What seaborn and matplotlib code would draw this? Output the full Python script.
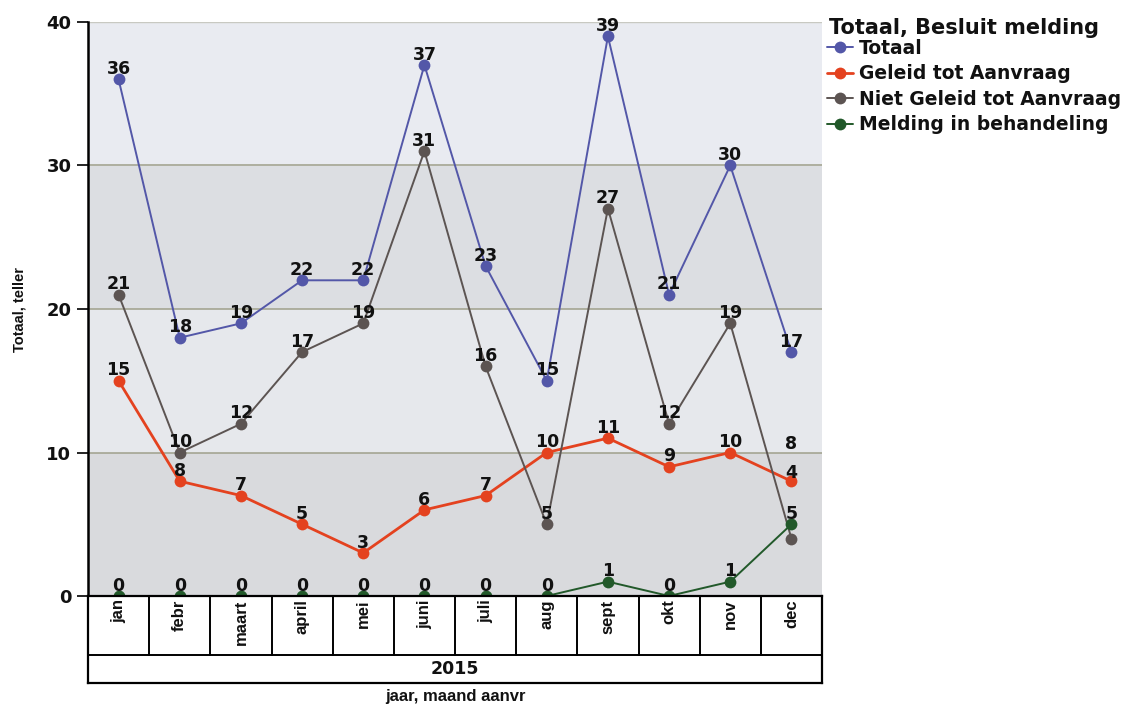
import numpy as np
import pandas as pd
import seaborn as sns
import matplotlib
matplotlib.use("Agg")
import matplotlib.pyplot as plt
from matplotlib.lines import Line2D

# ---------------- data ----------------
months = ["jan", "febr", "maart", "april", "mei", "juni", "juli", "aug", "sept", "okt", "nov", "dec"]
year_label = "2015"
series_names = ["Totaal", "Geleid tot Aanvraag", "Niet Geleid tot Aanvraag", "Melding in behandeling"]
totaal = [36, 18, 19, 22, 22, 37, 23, 15, 39, 21, 30, 17]
geleid = [15, 8, 7, 5, 3, 6, 7, 10, 11, 9, 10, 8]
niet_geleid = [21, 10, 12, 17, 19, 31, 16, 5, 27, 12, 19, 4]
melding = [0, 0, 0, 0, 0, 0, 0, 0, 1, 0, 1, 5]
y_ticks = [0, 10, 20, 30, 40]
legend_title = "Totaal, Besluit melding"

# ---------------- style ----------------
sns.set_theme(style="white")
plt.rcParams["font.family"] = ["Liberation Sans", "DejaVu Sans"]
plt.rcParams["text.color"] = "#111111"
plt.rcParams["axes.labelcolor"] = "#111111"
plt.rcParams["ytick.color"] = "#111111"
WIDE = ["DejaVu Sans"]

colors = ["#5357a8", "#e4421f", "#5c5452", "#22592a"]
line_widths = [1.4, 2.0, 1.4, 1.4]
band_colors = ["#d9dadd", "#e6e8ec", "#dcdee2", "#e9ebf1"]
# extra vertical label offsets (points) to avoid overlaps: (series index, month index) -> dy
label_shift = {(1, 11): 19, (2, 11): 40}

W, H = 1147, 707
fig = plt.figure(figsize=(W / 100, H / 100), dpi=100)
left, right, top, bottom = 88 / W, 822 / W, 1 - 22 / H, 1 - 596 / H
ax = fig.add_axes([left, bottom, right - left, top - bottom])

x_pos = np.arange(len(months))
values = [totaal, geleid, niet_geleid, melding]
df = pd.DataFrame({
    "pos": np.tile(x_pos, len(series_names)),
    "value": np.concatenate(values),
    "serie": np.repeat(series_names, len(months)),
})

# background bands and gridlines
for i, c in enumerate(band_colors):
    ax.axhspan(y_ticks[i], y_ticks[i + 1], color=c, zorder=0, lw=0)
for yv in y_ticks[1:-1]:
    ax.axhline(yv, color="#a4a592", lw=1.2, zorder=1)
ax.axhline(y_ticks[-1], color="#c8c9c2", lw=1.0, zorder=1)

for i, name in enumerate(series_names):
    sub = df[df["serie"] == name]
    sns.lineplot(data=sub, x="pos", y="value", ax=ax, color=colors[i], lw=line_widths[i],
                 marker="o", markersize=8.5, markeredgewidth=0, legend=False, zorder=3 + i)
    for j, v in enumerate(values[i]):
        dy = 1.0 + label_shift.get((i, j), 0)
        ax.annotate(str(v), (x_pos[j], v), xytext=(0, dy), textcoords="offset points",
                    ha="center", va="bottom", fontsize=12.5, fontweight="bold",
                    family=WIDE, color="#111111", zorder=10)

ax.set_xlim(-0.5, len(months) - 0.5)
ax.set_ylim(y_ticks[0], y_ticks[-1])
ax.set_xticks([])
ax.set_yticks(y_ticks)
ax.set_yticklabels([str(t) for t in y_ticks], fontsize=13, fontweight="bold", family=WIDE)
ax.tick_params(axis="y", left=True, length=8, width=1.2, color="black", pad=4)
ax.set_xlabel("")
ax.set_ylabel("Totaal, teller", fontsize=10.5, fontweight="bold", labelpad=14)
for s in ["top", "right", "bottom"]:
    ax.spines[s].set_visible(False)
ax.spines["left"].set_color("black")
ax.spines["left"].set_linewidth(1.8)

# category table below the axes
tab_bottom = 1 - 683 / H
tab = fig.add_axes([left, tab_bottom, right - left, bottom - tab_bottom])
tab.set_xlim(-0.5, len(months) - 0.5)
tab.set_ylim(0, 1)
tab.set_xticks([])
tab.set_yticks([])
tab.set_facecolor("white")
for s in tab.spines.values():
    s.set_color("black")
    s.set_linewidth(1.6)
split = (683 - 655) / 87
tab.axhline(split, color="black", lw=1.4)
for k in range(len(months) - 1):
    tab.axvline(k + 0.5, ymin=split, ymax=1, color="black", lw=1.4)
for j, m in enumerate(months):
    tab.text(x_pos[j], 0.96, m, rotation=90, ha="center", va="top", fontsize=12,
             fontweight="semibold", color="#111111")
tab.text((len(months) - 1) / 2, split / 2, year_label, ha="center", va="center",
         fontsize=12.5, fontweight="bold", family=WIDE, color="#111111")

fig.text(455 / W, 1 - 697 / H, "jaar, maand aanvr", ha="center", va="center",
         fontsize=12, fontweight="bold", color="#111111")

# legend
fig.text(829 / W, 1 - 28 / H, legend_title, ha="left", va="center", fontsize=15,
         fontweight="bold", family=WIDE, color="#111111")
handles = [Line2D([0], [0], color=colors[i], lw=line_widths[i], marker="o", markersize=8.5,
                  markeredgewidth=0) for i in range(len(series_names))]
leg = fig.legend(handles, series_names, loc="upper left", bbox_to_anchor=(827 / W, 1 - 39 / H),
                 frameon=False, prop={"family": WIDE, "weight": "bold", "size": 13.5},
                 handlelength=1.4, handletextpad=0.3, labelspacing=0.34, borderaxespad=0,
                 borderpad=0, labelcolor="#111111")

fig.savefig("out.png", dpi=100, facecolor="white")
